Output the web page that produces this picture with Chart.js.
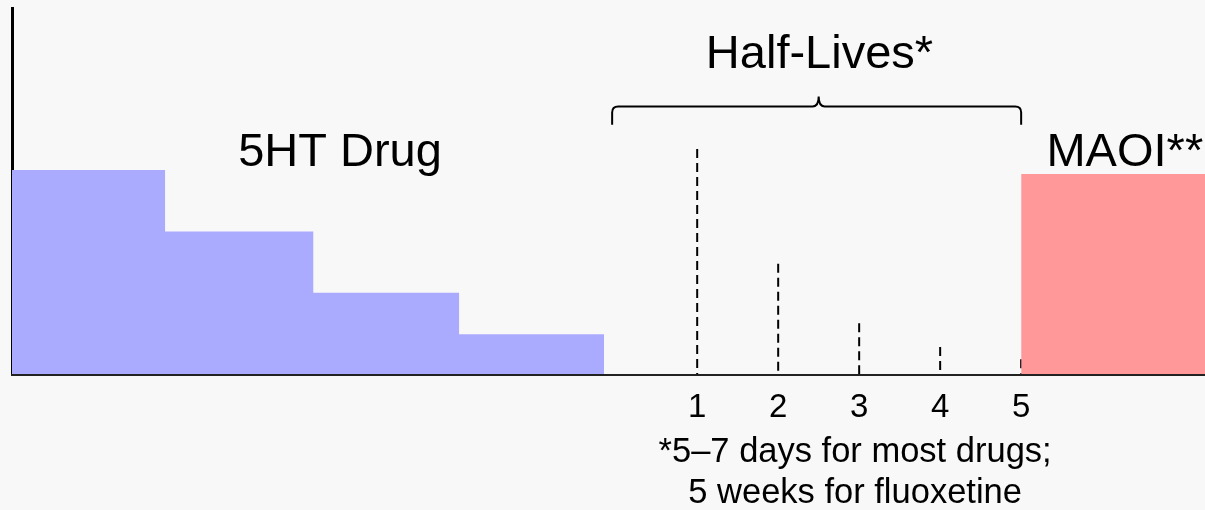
<!DOCTYPE html>
<html>
<head>
<meta charset="utf-8">
<script src="https://cdn.jsdelivr.net/npm/chart.js@4.4.1/dist/chart.umd.min.js"></script>
<style>
  html, body { margin: 0; padding: 0; background: #f8f8f8; }
  #wrap { width: 1205px; height: 510px; }
</style>
</head>
<body>
<div id="wrap"><canvas id="chart-halflife"></canvas></div>
<script>
// 5HT drug washout steps (left edge of each step, height)
const drugStepX = [-7.46, -5.57, -3.74, -1.94, -0.15];
const drugStepY = [55.9, 39.2, 22.5, 11.2, 11.2];

// half-lives and what remains after each
const halfLives = [1, 2, 3, 4, 5];
const remaining = [61.6, 30.4, 14.2, 7.7, 4.4];

// MAOI block
const maoiX = [5.0, 7.27];
const maoiY = [54.8, 54.8];

// labels
const labelText = ["5HT Drug", "Half-Lives*", "MAOI**"];
const labelX = [-3.41, 2.51, 6.28];
const labelY = [57, 83.8, 57];
const noteLines = ["*5\u20137 days for most drugs;", "5 weeks for fluoxetine"];

const fontFam = "'Liberation Sans', Arial, Helvetica, sans-serif";

const datasets = [
    {
        label: "5HT Drug",
        data: drugStepX.map((x, i) => ({ x: x, y: drugStepY[i] })),
        stepped: true,
        fill: "origin",
        backgroundColor: "#aaaaff",
        borderWidth: 0,
        pointRadius: 0,
    },
    {
        label: "MAOI",
        data: maoiX.map((x, i) => ({ x: x, y: maoiY[i] })),
        fill: "origin",
        backgroundColor: "#ff9999",
        borderWidth: 0,
        pointRadius: 0,
    },
];

halfLives.forEach(function (h, i) {
    datasets.push({
        label: "half-life " + h,
        data: [{ x: h, y: remaining[i] }, { x: h, y: 0 }],
        borderColor: "#000",
        borderWidth: 2,
        borderDash: [9, 5],
        pointRadius: 0,
        fill: false,
    });
});

// brace + free text drawn in data coordinates
const textPlugin = {
    id: "textPlugin",
    afterDatasetsDraw(chart) {
        const ctx = chart.ctx;
        const xs = chart.scales.x;
        const ys = chart.scales.y;
        ctx.save();
        ctx.fillStyle = "#000";
        ctx.textAlign = "center";
        ctx.textBaseline = "alphabetic";
        ctx.font = "47px " + fontFam;
        labelText.forEach(function (t, i) {
            ctx.fillText(t, xs.getPixelForValue(labelX[i]), ys.getPixelForValue(labelY[i]));
        });

        // curly brace over the half-lives
        const x0 = xs.getPixelForValue(-0.05);
        const x1 = xs.getPixelForValue(5);
        const xm = xs.getPixelForValue(2.5);
        const yb = ys.getPixelForValue(73.2);
        const ye = ys.getPixelForValue(68.2);
        const yt = ys.getPixelForValue(75.9);
        const r = 6;
        ctx.strokeStyle = "#000";
        ctx.lineWidth = 2;
        ctx.beginPath();
        ctx.moveTo(x0, ye);
        ctx.lineTo(x0, yb + r);
        ctx.quadraticCurveTo(x0, yb, x0 + r, yb);
        ctx.lineTo(xm - r, yb);
        ctx.quadraticCurveTo(xm, yb, xm, yt);
        ctx.quadraticCurveTo(xm, yb, xm + r, yb);
        ctx.lineTo(x1 - r, yb);
        ctx.quadraticCurveTo(x1, yb, x1, yb + r);
        ctx.lineTo(x1, ye);
        ctx.stroke();

        // footnote under the axis
        ctx.font = "34.5px " + fontFam;
        const nx = xs.getPixelForValue(2.95);
        ctx.fillText(noteLines[0], nx, 462);
        ctx.fillText(noteLines[1], nx, 503);
        ctx.restore();
    },
};

new Chart(document.getElementById("chart-halflife"), {
    type: "line",
    data: { datasets: datasets },
    options: {
        responsive: true,
        maintainAspectRatio: false,
        animation: false,
        layout: { padding: { left: 12, right: 0, top: 8, bottom: 77 } },
        plugins: {
            legend: { display: false },
            tooltip: { enabled: false },
        },
        scales: {
            x: {
                type: "linear",
                min: -7.46,
                max: 7.27,
                grid: { display: false },
                border: { display: true, color: "#222", width: 2, z: 1 },
                afterBuildTicks: function (axis) {
                    axis.ticks = halfLives.map((v) => ({ value: v }));
                },
                ticks: {
                    color: "#000",
                    padding: 5,
                    font: { family: fontFam, size: 33 },
                },
            },
            y: {
                min: 0,
                max: 100,
                grid: { display: false, drawTicks: false },
                border: { display: true, color: "#000", width: 3 },
                ticks: { display: false },
            },
        },
    },
    plugins: [textPlugin],
});
</script>
</body>
</html>
